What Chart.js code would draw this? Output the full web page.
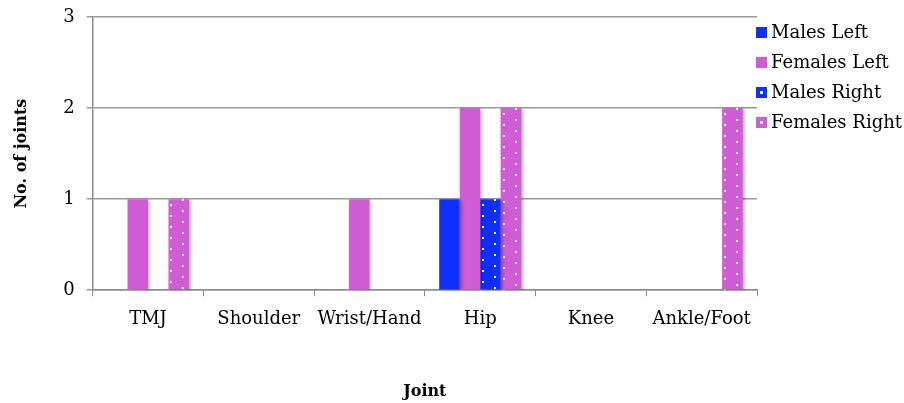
<!DOCTYPE html>
<html>
<head>
<meta charset="utf-8">
<script src="https://cdn.jsdelivr.net/npm/chart.js@4/dist/chart.umd.min.js"></script>
<style>
  html, body { margin: 0; padding: 0; background: #fff; }
  #wrap { width: 904px; height: 403px; }
</style>
</head>
<body>
<div id="wrap"><canvas id="joints-chart"></canvas></div>
<script>
const joints = ["TMJ", "Shoulder", "Wrist/Hand", "Hip", "Knee", "Ankle/Foot"];
const malesLeft = [0, 0, 0, 1, 0, 0];
const femalesLeft = [1, 0, 1, 2, 0, 0];
const malesRight = [0, 0, 0, 1, 0, 0];
const femalesRight = [1, 0, 0, 2, 0, 2];

const BLUE = "#0f2fff";
const PINK = "#d05cd6";
const FONT = "'DejaVu Serif', serif";

// tile of white dots in two staggered columns
function dotTile(color) {
	const c = document.createElement("canvas");
	c.width = 24;
	c.height = 11;
	const g = c.getContext("2d");
	g.fillStyle = color;
	g.fillRect(0, 0, 24, 11);
	g.fillStyle = "#fff";
	g.fillRect(2, 5, 2, 2);
	g.fillRect(14, 0, 2, 2);
	return c;
}

const ctx = document.getElementById("joints-chart");

// pin each dotted bar's pattern to its own top-left corner
const dotFill = {
	id: "dotFill",
	beforeDatasetsDraw(chart) {
		chart.data.datasets.forEach((ds, i) => {
			if (!ds.tile) return;
			chart.getDatasetMeta(i).data.forEach((el) => {
				const p = chart.ctx.createPattern(ds.tile, "repeat");
				p.setTransform(new DOMMatrix([1, 0, 0, 1, Math.round(el.x - el.width / 2), Math.round(el.y)]));
				el.options = Object.assign({}, el.options, { backgroundColor: p });
			});
		});
	},
};

// soft drop shadow under the bars
const barShadow = {
	id: "barShadow",
	beforeDatasetsDraw(chart) {
		const c = chart.ctx;
		c.save();
		c.shadowColor = "rgba(0,0,0,0.3)";
		c.shadowBlur = 3;
		c.shadowOffsetX = 2;
		c.shadowOffsetY = 1;
	},
	afterDatasetsDraw(chart) {
		chart.ctx.restore();
	},
};

// legend sits over the right edge of the plot
const sideLegend = {
	id: "sideLegend",
	afterDraw(chart) {
		const c = chart.ctx;
		const x = chart.chartArea.right - 1;
		let y = chart.chartArea.top + 10;
		c.save();
		c.font = "18px " + FONT;
		c.textBaseline = "middle";
		chart.data.datasets.forEach((ds) => {
			c.fillStyle = ds.backgroundColor;
			c.fillRect(x, y, 11, 11);
			if (ds.tile) {
				c.fillStyle = "#fff";
				c.fillRect(x + 4, y + 4, 3, 3);
			}
			c.fillStyle = "#000";
			c.fillText(ds.label, x + 15, y + 6);
			y += 30;
		});
		c.restore();
	},
};

new Chart(ctx, {
	type: "bar",
	data: {
		labels: joints,
		datasets: [
			{ label: "Males Left", data: malesLeft, backgroundColor: BLUE },
			{ label: "Females Left", data: femalesLeft, backgroundColor: PINK },
			{ label: "Males Right", data: malesRight, backgroundColor: BLUE, tile: dotTile(BLUE) },
			{ label: "Females Right", data: femalesRight, backgroundColor: PINK, tile: dotTile(PINK) },
		],
	},
	options: {
		responsive: true,
		maintainAspectRatio: false,
		animation: false,
		datasets: {
			bar: { categoryPercentage: 0.74, barPercentage: 1.0, borderWidth: 0 },
		},
		layout: { padding: { top: 17, right: 147, bottom: 0, left: 12 } },
		plugins: {
			legend: { display: false },
			tooltip: { enabled: false },
		},
		scales: {
			x: {
				grid: {
					offset: true,
					drawOnChartArea: false,
					color: "#8c8c8c",
					tickLength: 6,
				},
				border: { color: "#8c8c8c", width: 1.5 },
				ticks: { color: "#000", font: { family: FONT, size: 18 }, padding: 12, maxRotation: 0 },
				title: {
					display: true,
					text: "Joint",
					color: "#000",
					font: { family: FONT, size: 16, weight: "bold" },
					padding: { top: 40, bottom: 2 },
				},
			},
			y: {
				min: 0,
				max: 3,
				afterFit(scale) {
					scale.paddingTop = 0;
				},
				ticks: { stepSize: 1, color: "#000", font: { family: FONT, size: 18 }, padding: 12 },
				grid: { color: "#9a9a9a", lineWidth: 1.5, tickLength: 6 },
				border: { color: "#8c8c8c", width: 1.5 },
				title: {
					display: true,
					text: "No. of joints",
					color: "#000",
					font: { family: FONT, size: 16, weight: "bold" },
					padding: { top: 0, bottom: 20 },
				},
			},
		},
	},
	plugins: [dotFill, barShadow, sideLegend],
});
</script>
</body>
</html>
